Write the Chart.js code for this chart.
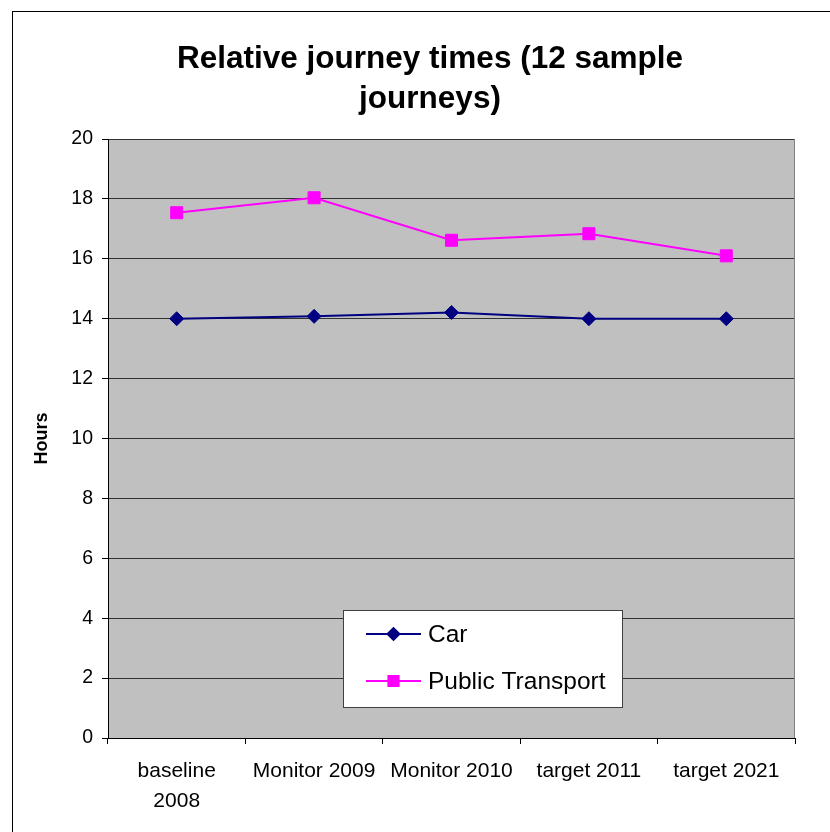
<!DOCTYPE html>
<html>
<head>
<meta charset="utf-8">
<script src="https://cdn.jsdelivr.net/npm/chart.js@4"></script>
<style>
html,body{margin:0;padding:0;background:#fff;}
#wrap{position:absolute;left:0;top:0;width:830px;height:832px;}
</style>
</head>
<body>
<div id="wrap"><canvas id="c" width="830" height="832"></canvas></div>
<script>
const categories = [['baseline', '2008'], 'Monitor 2009', 'Monitor 2010', 'target 2011', 'target 2021'];
const carHours = [14.0, 14.08, 14.21, 14.0, 14.0];
const publicTransportHours = [17.54, 18.04, 16.62, 16.84, 16.1];
const yTicks = [0, 2, 4, 6, 8, 10, 12, 14, 16, 18, 20];
const titleLines = ['Relative journey times (12 sample', 'journeys)'];

const FONT = 'Liberation Sans, Arial, sans-serif';

const bgPlugin = {
  id: 'bg',
  beforeDraw(chart) {
    const {ctx, chartArea: a} = chart;
    ctx.save();
    ctx.fillStyle = '#ffffff';
    ctx.fillRect(0, 0, chart.width, chart.height);
    ctx.strokeStyle = '#000000';
    ctx.lineWidth = 1;
    ctx.strokeRect(12.5, 11.5, 840, 840);
    ctx.fillStyle = '#c0c0c0';
    ctx.fillRect(a.left, a.top, a.right - a.left, a.bottom - a.top);
    ctx.restore();
  },
  afterDatasetsDraw(chart) {
    const {ctx, chartArea: a} = chart;
    ctx.save();
    ctx.strokeStyle = '#808080';
    ctx.lineWidth = 1;
    ctx.beginPath();
    ctx.moveTo(a.right - 0.5, a.top);
    ctx.lineTo(a.right - 0.5, a.bottom);
    ctx.stroke();
    ctx.restore();
  }
};

const legendPlugin = {
  id: 'boxLegend',
  afterDraw(chart) {
    const {ctx} = chart;
    const x0 = 343, y0 = 610, w = 279, h = 97;
    ctx.save();
    ctx.fillStyle = '#ffffff';
    ctx.fillRect(x0, y0, w, h);
    ctx.strokeStyle = '#404040';
    ctx.lineWidth = 1;
    ctx.strokeRect(x0 + 0.5, y0 + 0.5, w, h);
    const rows = [634, 681];
    chart.data.datasets.forEach((ds, i) => {
      const y = rows[i];
      ctx.strokeStyle = ds.borderColor;
      ctx.lineWidth = 2;
      ctx.beginPath();
      ctx.moveTo(366, y);
      ctx.lineTo(421, y);
      ctx.stroke();
      Chart.helpers.drawPoint(ctx, {pointStyle: ds.pointStyle, radius: ds.pointRadius * 0.85, borderWidth: 1}, 393.5, y);
      ctx.fillStyle = ds.backgroundColor;
      ctx.fill();
      ctx.fillStyle = '#000000';
      ctx.font = '24.5px ' + FONT;
      ctx.textBaseline = 'middle';
      ctx.textAlign = 'left';
      ctx.fillText(ds.label, 428, y + 1);
    });
    ctx.restore();
  }
};

new Chart(document.getElementById('c'), {
  type: 'line',
  data: {
    labels: categories,
    datasets: [
      {
        label: 'Car',
        data: carHours,
        borderColor: '#000080',
        backgroundColor: '#000080',
        borderWidth: 2,
        pointStyle: 'rectRot',
        pointRadius: 7,
        pointBorderWidth: 1,
        pointBorderColor: '#000080',
        pointBackgroundColor: '#000080',
        tension: 0
      },
      {
        label: 'Public Transport',
        data: publicTransportHours,
        borderColor: '#ff00ff',
        backgroundColor: '#ff00ff',
        borderWidth: 2,
        pointStyle: 'rect',
        pointRadius: 8.5,
        pointBorderWidth: 1,
        pointBorderColor: '#ff00ff',
        pointBackgroundColor: '#ff00ff',
        tension: 0
      }
    ]
  },
  options: {
    responsive: false,
    animation: false,
    devicePixelRatio: 1,
    layout: {padding: {left: 65, right: 35, top: 0, bottom: 0}},
    plugins: {
      legend: {display: false},
      tooltip: {enabled: false},
      title: {
        display: true,
        text: titleLines,
        color: '#000000',
        font: {family: FONT, size: 31.5, weight: 'bold', lineHeight: 1.25},
        padding: {top: 40, bottom: 20.3}
      }
    },
    scales: {
      x: {
        type: 'category',
        offset: true,
        grid: {
          offset: true,
          drawOnChartArea: false,
          color: '#000000',
          tickLength: 6,
          tickColor: '#000000'
        },
        border: {color: '#000000', width: 1},
        ticks: {
          color: '#000000',
          font: {family: FONT, size: 21, lineHeight: 1.4},
          maxRotation: 0,
          autoSkip: false,
          padding: 13
        },
        afterFit(s) { s.height = 94; }
      },
      y: {
        min: 0,
        max: 20,
        afterBuildTicks(s) { s.ticks = yTicks.map(v => ({value: v})); },
        grid: {
          color: '#333333',
          lineWidth: 1,
          tickLength: 6,
          tickColor: '#000000'
        },
        border: {color: '#000000', width: 1},
        ticks: {
          color: '#000000',
          font: {family: FONT, size: 19.5},
          padding: 9
        },
        title: {
          display: true,
          text: 'Hours',
          color: '#000000',
          font: {family: FONT, size: 18, weight: 'bold'},
          padding: {top: -34, bottom: 0}
        },
        afterFit(s) { s.width = 43; }
      }
    }
  },
  plugins: [bgPlugin, legendPlugin]
});
</script>
</body>
</html>
